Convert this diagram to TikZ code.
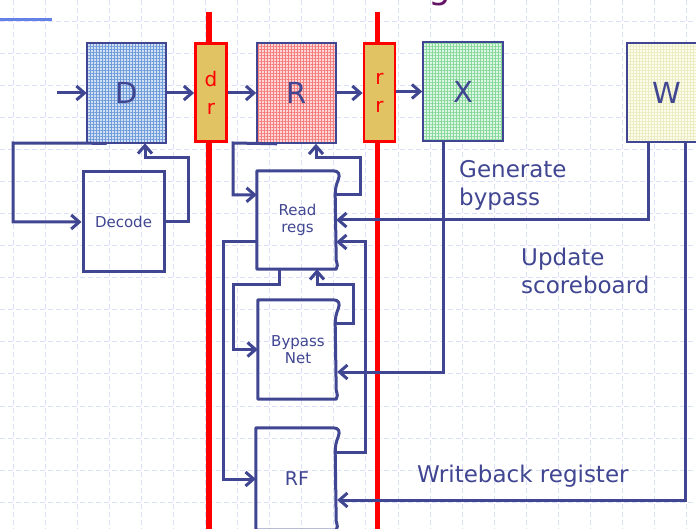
\documentclass[tikz,border=0pt]{standalone}
\usepackage{fontspec}
\setmainfont{DejaVu Sans}
\usetikzlibrary{arrows.meta,calc,patterns.meta}
\definecolor{ink}{RGB}{64,70,145}
\definecolor{gridc}{RGB}{218,224,245}
\definecolor{latchfill}{RGB}{225,195,100}
\definecolor{titlec}{RGB}{100,20,100}
\definecolor{topline}{RGB}{100,130,230}
\definecolor{Dfill}{RGB}{210,224,244}
\definecolor{Dline}{RGB}{110,155,218}
\definecolor{Rfill}{RGB}{255,215,215}
\definecolor{Rline}{RGB}{244,125,125}
\definecolor{Xfill}{RGB}{222,247,228}
\definecolor{Xline}{RGB}{135,216,155}
\definecolor{Wfill}{RGB}{253,253,236}
\definecolor{Wline}{RGB}{236,236,195}
\newcommand\tornoutline[1]{%
 \draw[ink, line width=3pt, line join=round]
 (#1.north west) -- ([xshift=-5pt]#1.north east)
 .. controls ([xshift=1pt]#1.north east) and ([xshift=2pt,yshift=-4pt]#1.north east) .. ([yshift=-9pt]#1.north east)
 .. controls ([xshift=-2pt,yshift=-14pt]#1.north east) and ([xshift=-3pt,yshift=-18pt]#1.north east) .. ([xshift=-3pt,yshift=-24pt]#1.north east)
 -- ([xshift=-2pt,yshift=9pt]#1.south east)
 .. controls ([xshift=-1pt,yshift=5pt]#1.south east) and ([yshift=2pt]#1.south east) .. ([xshift=-2pt]#1.south east)
 -- (#1.south west) -- cycle;}
\begin{document}
\begin{tikzpicture}[x=1pt,y=-1pt,
  gridline/.style={draw=gridc,line width=0.8pt,dash pattern=on 5pt off 3pt},
  conn/.style={draw=ink,line width=3pt},
  arr/.style={conn,-{Straight Barb[length=8pt,width=14pt]}},
  stage/.style={draw=ink,line width=1.6pt,minimum width=79pt,minimum height=100pt,inner sep=0pt,
     font=\fontsize{29}{34}\selectfont,text=ink},
  latch/.style={draw=red,line width=2.8pt,fill=latchfill,minimum width=31pt,minimum height=98pt,
     inner sep=0pt,align=center,text=red,font=\fontsize{20}{28}\selectfont},
  redbar/.style={draw=red,line width=5.5pt},
  paper/.style={minimum width=81pt,minimum height=98pt,inner sep=0pt,text=ink,align=center,
     font=\fontsize{15}{17}\selectfont},
  lbl/.style={text=ink,font=\fontsize{23}{28}\selectfont,align=left,inner sep=0pt}]
\useasboundingbox (0,0) rectangle (696,529);
\fill[white] (0,0) rectangle (696,529);
% background grid
\foreach \i in {0,...,21} \draw[gridline] ({13+32.08*\i},0) -- ({13+32.08*\i},529);
\foreach \j in {0,...,15} \draw[gridline] (0,{21+32.08*\j}) -- (696,{21+32.08*\j});
\draw[topline,line width=3pt] (0,20) -- (52,20);
\begin{scope}
\clip (0,0) rectangle (696,529);
\node[text=titlec,font=\fontsize{36}{40}\selectfont,anchor=base,inner sep=0pt] (ttl) at (440,-1.5) {g};
\end{scope}
% pipeline registers (red bars)
\draw[redbar] (209,12) -- (209,529);
\draw[redbar] (377.5,12) -- (377.5,529);
% stages
\node[stage,preaction={fill=Dfill},pattern={Hatch[distance=3pt,line width=0.6pt]},pattern color=Dline] (D) at (126.5,93) {D};
\node[stage,preaction={fill=Rfill},pattern={Hatch[distance=3pt,line width=0.6pt]},pattern color=Rline] (R) at (296.5,93) {R};
\node[stage,minimum width=80pt,minimum height=99pt,preaction={fill=Xfill},pattern={Hatch[distance=3pt,line width=0.6pt]},pattern color=Xline] (X) at (463,91.5) {X};
\node[stage,minimum width=80pt,minimum height=99pt,preaction={fill=Wfill},pattern={Hatch[distance=3pt,line width=0.6pt]},pattern color=Wline] (W) at (667,92.5) {W};
\node[latch] (dr) at (211,92.5) {d\\r};
\node[latch] (rr) at (379.5,92.5) {r\\r};
% decode unit
\node[draw=ink,line width=3pt,minimum width=81pt,minimum height=100pt,inner sep=0pt,text=ink,
  font=\fontsize{15}{17}\selectfont] (Decode) at (123.5,222) {Decode};
% torn boxes
\node[paper] (rg) at (297.5,220) {Read\\regs};
\node[paper,minimum width=80pt,minimum height=99pt] (bp) at (298,349.5) {Bypass\\Net};
\node[paper,minimum width=82pt,minimum height=102pt,font=\fontsize{19}{22}\selectfont] (RF) at (297,479) {RF};
\tornoutline{rg}
\tornoutline{bp}
\tornoutline{RF}
% connectors
\coordinate (inD) at (57,93);
\draw[arr] (inD) -- (D.west);
\draw[arr] (D.east) -- (D.east -| dr.west);
\draw[arr] (dr.east |- R.west) -- (R.west);
\draw[arr] (R.east) -- (R.east -| rr.west);
\draw[arr] (rr.east |- X.west) -- (X.west);
\draw[arr] ([xshift=20pt]D.south west) -- (13,143) |- (Decode.west);
\draw[arr] (Decode.east) -| (188,158) -| ([xshift=18.5pt]D.south);
\draw[arr] ([xshift=21pt]R.south west) -- (233,143) |- ([yshift=-24pt]rg.north west);
\draw[arr] ([xshift=-3pt,yshift=-24pt]rg.north east) -| (360,158) -| ([xshift=19.5pt]R.south);
\draw[arr] ([xshift=-19pt]W.south) |- ([xshift=-2pt]rg.east);
\draw[arr] ([xshift=-20pt]X.south) |- ([xshift=-1pt,yshift=-22.5pt]bp.east);
\draw[arr] ([xshift=18pt]W.south) |- ([xshift=-1pt,yshift=-21pt]RF.east);
\draw[arr] ([xshift=-18.5pt]rg.south) |- (233,285) |- (bp.west);
\draw[arr] ([xshift=-2pt,yshift=-24pt]bp.north east) -| (353,285) -| ([xshift=19.5pt]rg.south);
\draw[arr] ([yshift=-22pt]rg.west) -- (223,242) |- (RF.west);
\draw[arr] ([xshift=-3pt,yshift=-25pt]RF.north east) -| (365,242) -- ([xshift=-2pt,yshift=-22pt]rg.east);
% labels
\node[lbl,anchor=west] (gb) at (459,185) {Generate\\bypass};
\node[lbl,anchor=west] (us) at (521,271) {Update\\scoreboard};
\node[lbl,anchor=west] (wr) at (417,476) {Writeback register};
\end{tikzpicture}
\end{document}
